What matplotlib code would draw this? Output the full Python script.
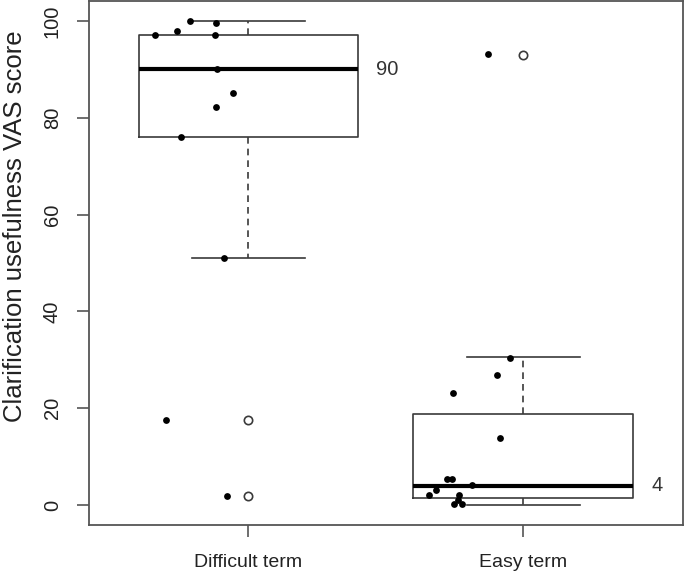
import matplotlib
matplotlib.use("Agg")
import matplotlib.pyplot as plt
import numpy as np

plt.rcParams['font.family'] = ['Liberation Sans', 'DejaVu Sans']

categories = ["Difficult term", "Easy term"]
positions = [1, 2]

# box statistics
medians = [90, 4]
q1s = [76, 1.5]
q3s = [97, 18.8]
whisk_lo = [51, 0]
whisk_hi = [100, 30.5]
outliers = [[17.5, 1.9], [93]]

# jittered individual observations (x jitter position, value)
difficult_x = [0.789, 0.883, 0.741, 0.659, 0.880, 0.885, 0.943, 0.883, 0.755, 0.912, 0.701, 0.920]
difficult_y = [100, 99.6, 97.9, 97.0, 97.0, 90.0, 85.0, 82.2, 76.1, 51.0, 17.5, 1.9]
easy_x = [1.872, 1.951, 1.902, 1.745, 1.915, 1.721, 1.739, 1.812, 1.683, 1.655, 1.765, 1.762, 1.748, 1.778]
easy_y = [93.1, 30.4, 26.9, 23.2, 13.8, 5.3, 5.3, 4.1, 3.1, 2.1, 2.1, 1.0, 0.2, 0.2]

median_labels = ["90", "4"]

fig = plt.figure(figsize=(6.85, 5.72), dpi=100)
ax = fig.add_axes([89/685, 47/572, 594/685, 524/572])

stats = []
for i in range(2):
    stats.append(dict(med=medians[i], q1=q1s[i], q3=q3s[i], whislo=whisk_lo[i],
                      whishi=whisk_hi[i], fliers=outliers[i], label=categories[i]))

lc = '#3a3a3a'
ax.bxp(stats, positions=positions, widths=0.8, showfliers=True,
       boxprops=dict(color=lc, linewidth=1.2),
       whiskerprops=dict(color=lc, linewidth=1.2, linestyle=(0, (4, 3))),
       capprops=dict(color=lc, linewidth=1.2),
       medianprops=dict(color='black', linewidth=3, solid_capstyle='butt'),
       flierprops=dict(marker='o', markerfacecolor='white', markeredgecolor=lc,
                       markersize=6, markeredgewidth=1.2),
       capwidths=0.41)

ax.scatter(difficult_x, difficult_y, s=24, color='black', zorder=5, linewidths=0)
ax.scatter(easy_x, easy_y, s=24, color='black', zorder=5, linewidths=0)

for p, lab, m in zip(positions, median_labels, medians):
    ax.text(p + 0.465, m, lab, fontsize=14.5, color='#333333', va='center', ha='left')

ax.set_xlim(0.42, 2.58)
ax.set_ylim(-4.1, 104.1)
ax.set_xticks(positions)
ax.set_xticklabels(categories, fontsize=14, color='#222222')
ax.set_yticks([0, 20, 40, 60, 80, 100])
ax.set_yticklabels(["0", "20", "40", "60", "80", "100"], fontsize=14.5, color='#222222',
                   rotation=90, va='center')
ax.tick_params(axis='both', length=8.6, width=1.2, color='#555555')
ax.tick_params(axis='x', pad=12)
ax.tick_params(axis='y', pad=11)
for s in ['left', 'bottom', 'right', 'top']:
    ax.spines[s].set_visible(True)
    ax.spines[s].set_color('#555555')
    ax.spines[s].set_linewidth(1.3)

ax.set_ylabel("Clarification usefulness VAS score", fontsize=18.5, color='#222222')
ax.yaxis.set_label_coords(-0.104, 0.57)

fig.savefig("out.png", dpi=100)
